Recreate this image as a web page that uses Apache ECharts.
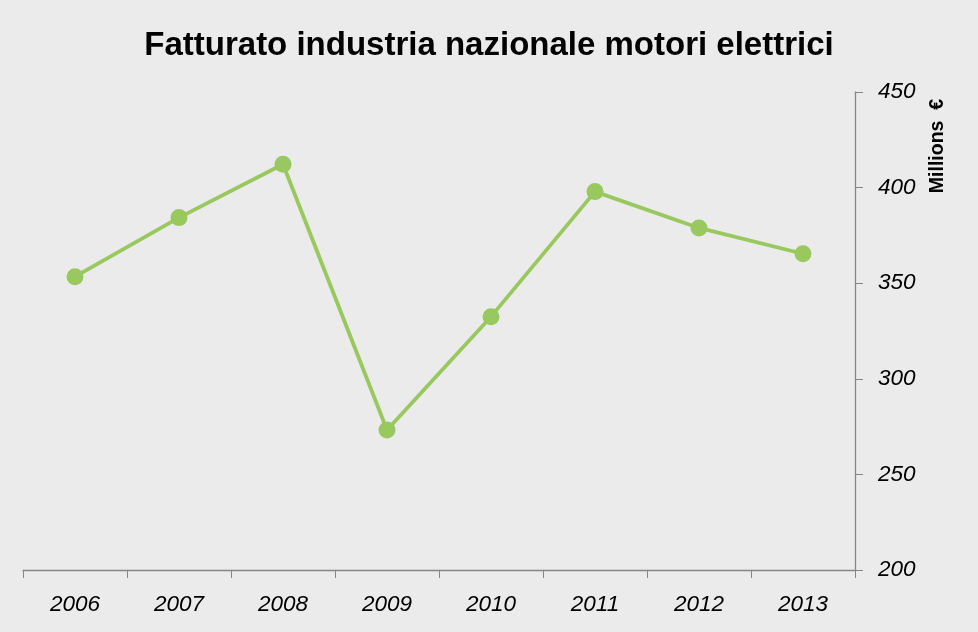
<!DOCTYPE html>
<html>
<head>
<meta charset="utf-8">
<script src="https://cdn.jsdelivr.net/npm/echarts@6/dist/echarts.min.js"></script>
<style>html,body{margin:0;padding:0;background:#ebebeb;}#c{width:978px;height:632px;}</style>
</head>
<body>
<div id="c"></div>
<script>
const years = ['2006','2007','2008','2009','2010','2011','2012','2013'];
const fatturato = [353.4, 384.3, 412.2, 273.2, 332.5, 397.9, 378.9, 365.4];
const yTicks = { min: 200, max: 450, interval: 50 };
const titleText = 'Fatturato industria nazionale motori elettrici';
const unitText = 'Millions  €';

const chart = echarts.init(document.getElementById('c'), null, {renderer: 'canvas'});
chart.setOption({
  backgroundColor: '#ebebeb',
  animation: false,
  title: {
    text: titleText,
    left: 'center',
    top: 24,
    textStyle: { fontFamily: 'Liberation Sans', fontWeight: 'bold', fontSize: 33, color: '#000' }
  },
  grid: { left: 23, right: 123, top: 92, bottom: 62 },
  xAxis: {
    type: 'category',
    data: years,
    boundaryGap: true,
    axisLine: { lineStyle: { color: '#868686', width: 1.3 } },
    axisTick: { show: true, length: 8, alignWithLabel: false, lineStyle: { color: '#868686' } },
    axisLabel: { margin: 23, fontFamily: 'Liberation Sans', fontStyle: 'italic', fontSize: 22.5, color: '#000' },
    splitLine: { show: false }
  },
  yAxis: {
    type: 'value',
    position: 'right',
    min: yTicks.min, max: yTicks.max, interval: yTicks.interval,
    axisLine: { show: true, lineStyle: { color: '#868686', width: 1.3 } },
    axisTick: { show: true, length: 8, lineStyle: { color: '#868686' } },
    axisLabel: { margin: 23, fontFamily: 'Liberation Sans', fontStyle: 'italic', fontSize: 22.5, color: '#000' },
    splitLine: { show: false }
  },
  graphic: [{
    type: 'text',
    x: 938, y: 146,
    rotation: Math.PI / 2,
    style: {
      text: unitText,
      fontFamily: 'Liberation Sans', fontWeight: 'bold', fontSize: 19.5, fill: '#000',
      align: 'center', verticalAlign: 'middle'
    }
  }],
  series: [{
    type: 'line',
    data: fatturato,
    symbol: 'circle',
    symbolSize: 17,
    lineStyle: { color: '#98c85e', width: 3.8 },
    itemStyle: { color: '#98c85e' }
  }]
});
</script>
</body>
</html>
